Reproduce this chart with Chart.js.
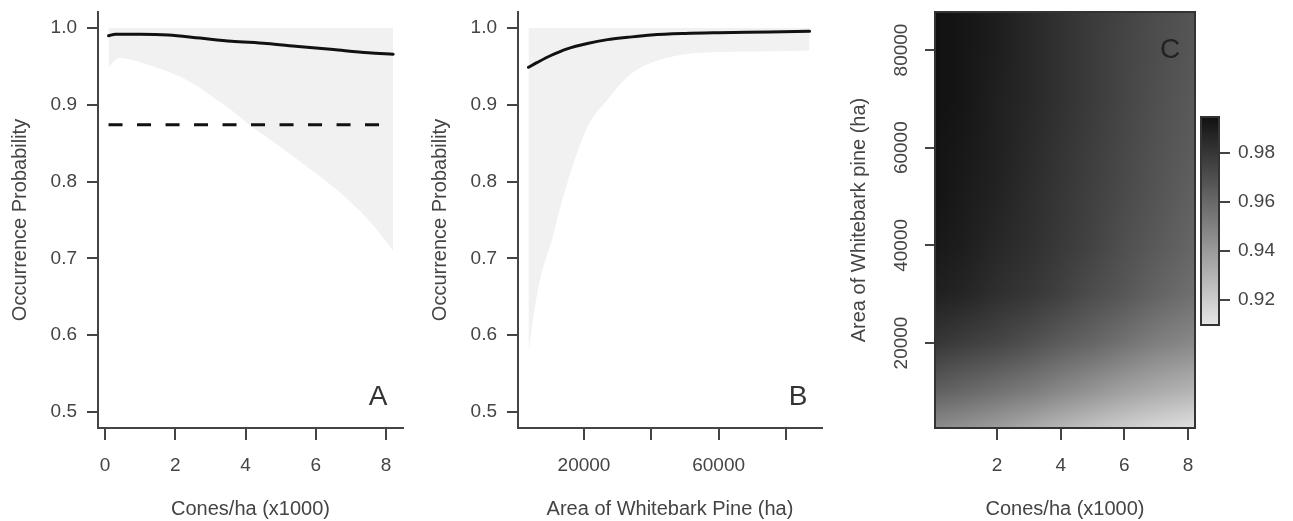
<!DOCTYPE html>
<html>
<head>
<meta charset="utf-8">
<script src="https://cdn.jsdelivr.net/npm/chart.js@4/dist/chart.umd.min.js"></script>
<style>
    body { margin: 0; background: #fff; }
    .panel { position: absolute; top: 0; }
</style>
</head>
<body>
<canvas id="panelA" class="panel" width="420" height="521" style="left:0px"></canvas>
<canvas id="panelB" class="panel" width="420" height="521" style="left:420px"></canvas>
<canvas id="panelC" class="panel" width="360" height="521" style="left:840px"></canvas>
<canvas id="legendC" class="panel" width="98" height="521" style="left:1195px"></canvas>
<script>
// panel A: occurrence vs cone density
const conesLine = [0.1, 0.3, 1.0, 1.8, 2.7, 3.6, 4.6, 5.5, 6.5, 7.5, 8.2]
const probConesLine = [0.990, 0.992, 0.992, 0.991, 0.987, 0.983, 0.980, 0.976, 0.972, 0.968, 0.966]
const conesBand = [0.1, 0.4, 1.1, 1.8, 2.5, 3.2, 3.6, 4.1, 4.6, 5.5, 6.5, 7.5, 8.2]
const conesBandLow = [0.949, 0.961, 0.954, 0.943, 0.928, 0.906, 0.893, 0.874, 0.858, 0.828, 0.793, 0.750, 0.710]
const conesBandHigh = [1.0, 1.0, 1.0, 1.0, 1.0, 1.0, 1.0, 1.0, 1.0, 1.0, 1.0, 1.0, 1.0]
const conesRef = [0.1, 8.2]
const probRef = [0.874, 0.874]

// panel B: occurrence vs whitebark pine area
const areaLine = [3500, 6000, 10000, 15000, 21000, 27000, 33000, 40000, 50000, 60000, 75000, 87000]
const probAreaLine = [0.949, 0.955, 0.964, 0.973, 0.980, 0.985, 0.988, 0.991, 0.993, 0.994, 0.995, 0.996]
const areaBand = [3500, 5000, 6500, 8000, 10000, 13000, 16000, 21000, 27000, 33000, 40000, 50000, 60000, 75000, 87000]
const areaBandLow = [0.578, 0.625, 0.663, 0.690, 0.717, 0.767, 0.812, 0.871, 0.907, 0.937, 0.955, 0.966, 0.969, 0.970, 0.971]
const areaBandHigh = [1.0, 1.0, 1.0, 1.0, 1.0, 1.0, 1.0, 1.0, 1.0, 1.0, 1.0, 1.0, 1.0, 1.0, 1.0]

// panel C: surface over cones x area (rows bottom to top)
const heatCones = [0.1, 1, 2, 3, 4, 5, 6, 7, 8.2]
const heatArea = [2700, 10000, 20000, 30000, 40000, 50000, 60000, 70000, 80000, 87800]
const heatProb = [
    [0.946, 0.943, 0.939, 0.934, 0.929, 0.924, 0.920, 0.916, 0.912],
    [0.963, 0.960, 0.956, 0.952, 0.947, 0.942, 0.937, 0.933, 0.929],
    [0.980, 0.977, 0.974, 0.970, 0.965, 0.961, 0.956, 0.951, 0.947],
    [0.989, 0.987, 0.983, 0.980, 0.976, 0.971, 0.967, 0.962, 0.957],
    [0.992, 0.990, 0.986, 0.983, 0.979, 0.975, 0.970, 0.966, 0.961],
    [0.994, 0.991, 0.988, 0.984, 0.980, 0.976, 0.972, 0.968, 0.963],
    [0.994, 0.992, 0.989, 0.985, 0.981, 0.977, 0.973, 0.969, 0.965],
    [0.995, 0.993, 0.989, 0.986, 0.982, 0.978, 0.974, 0.970, 0.966],
    [0.995, 0.993, 0.990, 0.986, 0.982, 0.978, 0.974, 0.971, 0.967],
    [0.995, 0.993, 0.990, 0.986, 0.982, 0.978, 0.975, 0.971, 0.968]
]

// ticks
const probTicks = [0.5, 0.6, 0.7, 0.8, 0.9, 1.0]
const conesTicks = [0, 2, 4, 6, 8]
const areaTicks = [20000, 40000, 60000, 80000]
const areaTickLabels = ['20000', '', '60000', '']
const conesTicksC = [2, 4, 6, 8]
const areaTicksC = [20000, 40000, 60000, 80000]
const legendTicks = [0.92, 0.94, 0.96, 0.98]

const INK = '#444'
const LINE = '#111'
const BAND = '#f1f1f1'
const FAMILY = "'Liberation Sans', Arial, sans-serif"
const FONT = { family: FAMILY, size: 19 }
const TITLE_FONT = { family: FAMILY, size: 20 }

const pts = (xs, ys) => xs.map((x, i) => ({ x: x, y: ys[i] }))
const fixTicks = list => s => { s.ticks = list.map(v => ({ value: v })) }

function probToGrey(p) {
    const g = Math.round(17 + (0.995 - p) * 2494)
    return Math.max(0, Math.min(255, g))
}

function bracket(arr, v) {
    v = Math.max(arr[0], Math.min(arr[arr.length - 1], v))
    let i = 0
    while (i < arr.length - 2 && v > arr[i + 1]) i++
    return [i, (v - arr[i]) / (arr[i + 1] - arr[i])]
}

function heatAt(c, a) {
    const [i, tx] = bracket(heatCones, c)
    const [j, ty] = bracket(heatArea, a)
    const bottom = heatProb[j][i] * (1 - tx) + heatProb[j][i + 1] * tx
    const top = heatProb[j + 1][i] * (1 - tx) + heatProb[j + 1][i + 1] * tx
    return bottom * (1 - ty) + top * ty
}

const letterPlugin = {
    id: 'panelLetter',
    afterDraw(chart, args, opts) {
        const { ctx, chartArea } = chart
        ctx.save()
        ctx.font = '28px ' + FAMILY
        ctx.fillStyle = opts.color
        ctx.textAlign = 'center'
        ctx.textBaseline = 'middle'
        const y = opts.fromTop != null ? chartArea.top + opts.fromTop : chartArea.bottom - opts.fromBottom
        ctx.fillText(opts.text, chartArea.right - opts.fromRight, y)
        ctx.restore()
    }
}

function probAxis() {
    return {
        type: 'linear', position: 'left', min: 0.479, max: 1.021,
        afterBuildTicks: fixTicks(probTicks),
        afterFit: s => { s.width = 98; s.paddingTop = 0; s.paddingBottom = 0 },
        grid: { drawOnChartArea: false, drawTicks: true, tickLength: 11, color: INK, lineWidth: 2 },
        border: { display: true, color: INK, width: 2 },
        ticks: { color: INK, font: FONT, padding: 10, callback: v => v.toFixed(1) },
        title: { display: true, text: 'Occurrence Probability', color: INK, font: TITLE_FONT, padding: { top: 8, bottom: 0 } }
    }
}

function bottomAxis(min, max, ticks, labelFn, title, withBorder) {
    return {
        type: 'linear', position: 'bottom', min: min, max: max,
        afterBuildTicks: fixTicks(ticks),
        afterFit: s => { s.height = 93; s.paddingLeft = 0; s.paddingRight = 0 },
        grid: { drawOnChartArea: false, drawTicks: true, tickLength: 12, color: INK, lineWidth: 2 },
        border: { display: withBorder, color: INK, width: 2 },
        ticks: { color: INK, font: FONT, padding: 14, maxRotation: 0, autoSkip: false, callback: labelFn },
        title: { display: true, text: title, color: INK, font: TITLE_FONT, padding: { top: 0, bottom: 0 } }
    }
}

function baseOptions(padRight, letter) {
    return {
        responsive: false,
        animation: false,
        layout: { padding: { left: 0, right: padRight, top: 12, bottom: 0 }, autoPadding: false },
        plugins: { legend: { display: false }, tooltip: { enabled: false }, panelLetter: letter }
    }
}

// band first (drawn underneath via order), curve on top
function curveSets(bx, bLow, bHigh, lx, ly) {
    return [
        { data: pts(bx, bHigh), order: 3, borderColor: 'rgba(0,0,0,0)', borderWidth: 0, pointRadius: 0, fill: false },
        { data: pts(bx, bLow), order: 2, borderColor: 'rgba(0,0,0,0)', borderWidth: 0, pointRadius: 0, fill: '-1',
          backgroundColor: BAND, tension: 0.3, cubicInterpolationMode: 'monotone' },
        { data: pts(lx, ly), order: 0, borderColor: LINE, borderWidth: 3, pointRadius: 0, borderCapStyle: 'round',
          tension: 0.3, cubicInterpolationMode: 'monotone' }
    ]
}

// A
const setsA = curveSets(conesBand, conesBandLow, conesBandHigh, conesLine, probConesLine)
setsA.push({ data: pts(conesRef, probRef), order: 1, borderColor: LINE, borderWidth: 3,
             borderDash: [14, 14.5], borderDashOffset: 0, borderCapStyle: 'butt', pointRadius: 0 })
const optsA = baseOptions(17, { text: 'A', color: '#333', fromRight: 25, fromBottom: 31 })
optsA.scales = {
    x: bottomAxis(-0.2, 8.48, conesTicks, v => String(v), 'Cones/ha (x1000)', true),
    y: probAxis()
}
new Chart(document.getElementById('panelA'), { type: 'line', data: { datasets: setsA }, options: optsA, plugins: [letterPlugin] })

// B
const optsB = baseOptions(18, { text: 'B', color: '#333', fromRight: 24, fromBottom: 31 })
optsB.scales = {
    x: bottomAxis(400, 90700, areaTicks, (v, i) => areaTickLabels[i], 'Area of Whitebark Pine (ha)', true),
    y: probAxis()
}
new Chart(document.getElementById('panelB'), {
    type: 'line',
    data: { datasets: curveSets(areaBand, areaBandLow, areaBandHigh, areaLine, probAreaLine) },
    options: optsB,
    plugins: [letterPlugin]
})

// C
const heatPlugin = {
    id: 'heatmap',
    beforeDatasetsDraw(chart) {
        const { ctx, chartArea, scales } = chart
        const left = Math.round(chartArea.left)
        const top = Math.round(chartArea.top)
        const w = Math.round(chartArea.right) - left
        const h = Math.round(chartArea.bottom) - top
        const img = ctx.createImageData(w, h)
        for (let j = 0; j < h; j++) {
            const area = scales.y.getValueForPixel(top + j + 0.5)
            for (let i = 0; i < w; i++) {
                const g = probToGrey(heatAt(scales.x.getValueForPixel(left + i + 0.5), area))
                const k = (j * w + i) * 4
                img.data[k] = img.data[k + 1] = img.data[k + 2] = g
                img.data[k + 3] = 255
            }
        }
        ctx.putImageData(img, left, top)
    },
    afterDraw(chart) {
        const { ctx, chartArea, scales } = chart
        ctx.save()
        ctx.strokeStyle = '#333'
        ctx.lineWidth = 2
        ctx.strokeRect(chartArea.left, chartArea.top, chartArea.right - chartArea.left, chartArea.bottom - chartArea.top)
        ctx.font = '19px ' + FAMILY
        ctx.fillStyle = INK
        ctx.textAlign = 'center'
        ctx.textBaseline = 'middle'
        areaTicksC.forEach(v => {
            ctx.save()
            ctx.translate(chartArea.left - 33, scales.y.getPixelForValue(v))
            ctx.rotate(-Math.PI / 2)
            ctx.fillText(String(v), 0, 0)
            ctx.restore()
        })
        ctx.restore()
    }
}

const optsC = baseOptions(5, { text: 'C', color: '#222', fromRight: 25, fromTop: 38 })
optsC.scales = {
    x: bottomAxis(0.05, 8.22, conesTicksC, v => String(v), 'Cones/ha (x1000)', false),
    y: {
        type: 'linear', position: 'left', min: 2600, max: 87780,
        afterBuildTicks: fixTicks(areaTicksC),
        afterFit: s => { s.width = 95; s.paddingTop = 0; s.paddingBottom = 0 },
        grid: { drawOnChartArea: false, drawTicks: true, tickLength: 10, color: INK, lineWidth: 2 },
        border: { display: false },
        ticks: { display: false },
        title: { display: true, text: 'Area of Whitebark pine (ha)', color: INK, font: TITLE_FONT, padding: { top: 7, bottom: 0 } }
    }
}
new Chart(document.getElementById('panelC'), {
    type: 'line',
    data: { datasets: [] },
    options: optsC,
    plugins: [heatPlugin, letterPlugin]
})

// colour key for C
const rampPlugin = {
    id: 'ramp',
    beforeDatasetsDraw(chart) {
        const { ctx, chartArea, scales } = chart
        ctx.save()
        for (let py = Math.floor(chartArea.top); py < chartArea.bottom; py++) {
            const g = probToGrey(scales.y.getValueForPixel(py + 0.5))
            ctx.fillStyle = 'rgb(' + g + ',' + g + ',' + g + ')'
            ctx.fillRect(chartArea.left, py, chartArea.right - chartArea.left, 1)
        }
        ctx.strokeStyle = '#333'
        ctx.lineWidth = 2
        ctx.strokeRect(chartArea.left, chartArea.top, chartArea.right - chartArea.left, chartArea.bottom - chartArea.top)
        ctx.restore()
    }
}

new Chart(document.getElementById('legendC'), {
    type: 'line',
    data: { datasets: [] },
    options: {
        responsive: false,
        animation: false,
        layout: { padding: { left: 6, right: 0, top: 117, bottom: 196 }, autoPadding: false },
        plugins: { legend: { display: false }, tooltip: { enabled: false } },
        scales: {
            x: { type: 'linear', display: false, min: 0, max: 1 },
            y: {
                type: 'linear', position: 'right', min: 0.9098, max: 0.9947,
                afterBuildTicks: fixTicks(legendTicks),
                afterFit: s => { s.width = 74; s.paddingTop = 0; s.paddingBottom = 0 },
                grid: { drawOnChartArea: false, drawTicks: true, tickLength: 11, color: INK, lineWidth: 2 },
                border: { display: false },
                ticks: { color: INK, font: FONT, padding: 8, callback: v => v.toFixed(2) }
            }
        }
    },
    plugins: [rampPlugin]
})
</script>
</body>
</html>
